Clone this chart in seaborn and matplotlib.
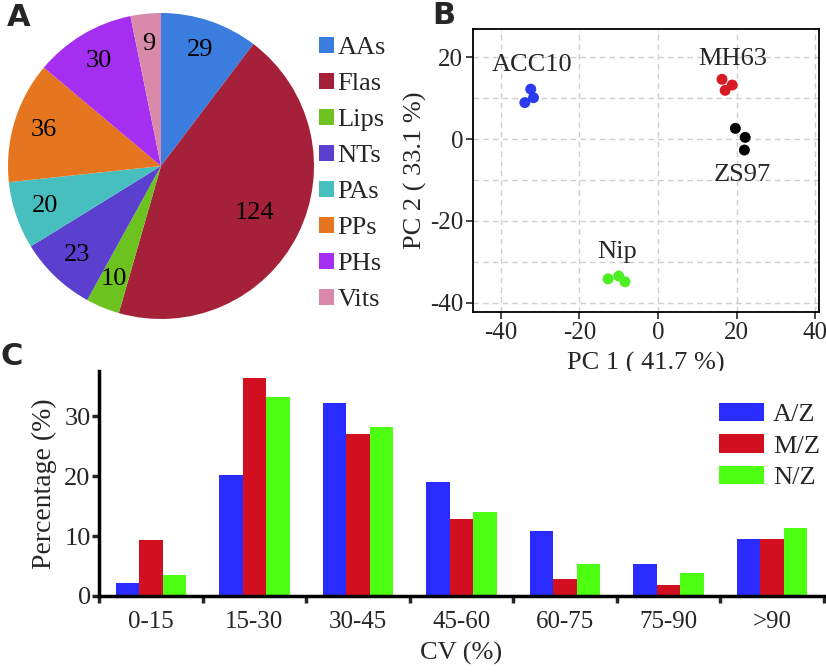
import matplotlib
matplotlib.use("Agg")
import matplotlib.pyplot as plt
from matplotlib.ticker import MultipleLocator, FixedLocator
import seaborn as sns
import numpy as np
import pandas as pd

# Panel A: metabolite classes
pie_labels = ["AAs", "Flas", "Lips", "NTs", "PAs", "PPs", "PHs", "Vits"]
pie_counts = [29, 124, 10, 23, 20, 36, 30, 9]
pie_colors = ["#3a7dde", "#a5213a", "#6cc31f", "#5b3fcf", "#48bfbf", "#e5761f", "#a52ff0", "#d98aaa"]

# Panel B: PCA scores
pca_group = ["ACC10"] * 3 + ["MH63"] * 3 + ["ZS97"] * 3 + ["Nip"] * 3
pc1 = [-32.4, -31.7, -33.9, 16.3, 18.9, 17.1, 19.7, 22.2, 22.0, -12.7, -10.0, -8.4]
pc2 = [12.2, 10.1, 8.9, 14.6, 13.2, 11.9, 2.6, 0.4, -2.7, -34.2, -33.5, -34.9]
pca_colors = {"ACC10": "#2b3cf0", "MH63": "#d81a24", "ZS97": "#000000", "Nip": "#4cf020"}
label_pos = {"ACC10": (-32.0, 18.2), "MH63": (18.9, 19.6), "ZS97": (21.6, -8.7), "Nip": (-10.4, -27.6)}

# Panel C: CV distribution
cv_bins = ["0-15", "15-30", "30-45", "45-60", "60-75", "75-90", ">90"]
az = [2.2, 20.2, 32.3, 19.0, 10.9, 5.3, 9.6]
mz = [9.4, 36.4, 27.0, 12.8, 2.8, 1.8, 9.6]
nz = [3.5, 33.2, 28.3, 14.0, 5.4, 3.8, 11.3]
bar_colors = {"A/Z": "#2a2cff", "M/Z": "#d10f1e", "N/Z": "#4dff10"}

sns.set_style("white")
plt.rcParams["font.family"] = ["Liberation Serif", "DejaVu Serif"]
plt.rcParams["axes.unicode_minus"] = False

fig = plt.figure(figsize=(8.26, 6.72), dpi=100)
W, H = 826, 672

def box(l, t, r, b):
    return [l / W, 1 - b / H, (r - l) / W, (b - t) / H]

# ---- A: pie ----
ax_a = fig.add_axes(box(8, 13, 314, 319))
wedges, texts, autotexts = ax_a.pie(
    pie_counts, colors=pie_colors, startangle=90, counterclock=False,
    autopct=lambda p: f"{round(p * sum(pie_counts) / 100):d}",
    pctdistance=0.8, wedgeprops=dict(linewidth=0),
    textprops=dict(fontsize=19, color="black"))
# move the big slice label a little inward
w = wedges[1]
mid = np.deg2rad((w.theta1 + w.theta2) / 2)
autotexts[1].set_position((0.68 * np.cos(mid), 0.68 * np.sin(mid)))
ax_a.set_xlim(-1, 1)
ax_a.set_ylim(-1, 1)
ax_a.set_aspect("equal")
fig.legend(wedges, pie_labels, loc="upper left", bbox_to_anchor=(319 / W, 1 - 37 / H),
           frameon=False, fontsize=19, handlelength=0.55, handleheight=0.55,
           handletextpad=0.15, labelspacing=0.52, borderpad=0, borderaxespad=0)

# ---- B: PCA ----
ax_b = fig.add_axes(box(473, 29, 819, 312))
pca_df = pd.DataFrame({"group": pca_group, "pc1": pc1, "pc2": pc2})
sns.scatterplot(data=pca_df, x="pc1", y="pc2", hue="group", palette=pca_colors,
                s=62, linewidth=0, legend=False, ax=ax_b, zorder=3)
for name, (lx, ly) in label_pos.items():
    ax_b.text(lx, ly, name, fontsize=19, ha="center", va="center")
ax_b.set_xlim(-47.1, 41)
ax_b.set_ylim(-42.3, 26.9)
ax_b.xaxis.set_major_locator(MultipleLocator(20))
ax_b.yaxis.set_major_locator(MultipleLocator(20))
ax_b.yaxis.set_minor_locator(MultipleLocator(10))
ax_b.grid(True, which="both", axis="y", color="#cfcfcf", linestyle=(0, (4, 3)), linewidth=1)
ax_b.grid(True, which="major", axis="x", color="#cfcfcf", linestyle=(0, (4, 3)), linewidth=1)
ax_b.tick_params(which="major", direction="out", length=5, width=1.2, labelsize=18,
                 bottom=True, left=True, pad=2)
ax_b.tick_params(which="minor", length=0)
for s in ax_b.spines.values():
    s.set_color("black")
    s.set_linewidth(1.3)
ax_b.set_xlabel("PC 1 ( 41.7 %)", fontsize=19, labelpad=6)
ax_b.set_ylabel("PC 2 ( 33.1 %)", fontsize=19, labelpad=2)

# ---- C: bars ----
ax_c = fig.add_axes(box(99, 371, 824, 596))
bar_df = pd.DataFrame({
    "cv": cv_bins * 3,
    "pct": az + mz + nz,
    "grp": ["A/Z"] * 7 + ["M/Z"] * 7 + ["N/Z"] * 7,
})
sns.barplot(data=bar_df, x="cv", y="pct", hue="grp", palette=bar_colors,
            width=0.68, saturation=1, linewidth=0, ax=ax_c)
ax_c.set_xlim(-0.5, 6.5)
ax_c.set_ylim(0, 37.6)
ax_c.yaxis.set_major_locator(FixedLocator([0, 10, 20, 30]))
ax_c.xaxis.set_major_locator(FixedLocator(np.arange(-0.5, 7, 1)))
ax_c.xaxis.set_minor_locator(FixedLocator(np.arange(7)))
ax_c.set_xticklabels([])
ax_c.set_xticklabels(cv_bins, minor=True)
ax_c.tick_params(axis="x", which="major", direction="out", length=5, width=2.5, bottom=True)
ax_c.tick_params(axis="x", which="minor", length=0, labelsize=18, pad=11)
ax_c.tick_params(axis="y", direction="out", length=5, width=2.5, labelsize=19, left=True, pad=1)
sns.despine(ax=ax_c)
ax_c.spines["left"].set_linewidth(2.5)
ax_c.spines["bottom"].set_linewidth(2.5)
ax_c.spines["left"].set_color("black")
ax_c.spines["bottom"].set_color("black")
ax_c.set_xlabel("CV (%)", fontsize=19, labelpad=6)
ax_c.set_ylabel("Percentage (%)", fontsize=20, labelpad=5)
ax_c.legend(loc="upper left", bbox_to_anchor=(719 / W, 1 - 403 / H),
            bbox_transform=fig.transFigure, frameon=False, fontsize=19,
            handlelength=1.7, handleheight=0.7, handletextpad=0.35,
            labelspacing=0.3, borderpad=0, borderaxespad=0)

# panel letters
for lab, x, y in [("A", 7, 3), ("B", 432, 1), ("C", 1, 342)]:
    fig.text(x / W, 1 - y / H, lab, fontsize=22, fontweight="bold",
             family="DejaVu Sans", va="top", ha="left")

fig.savefig("out.png", dpi=100)
